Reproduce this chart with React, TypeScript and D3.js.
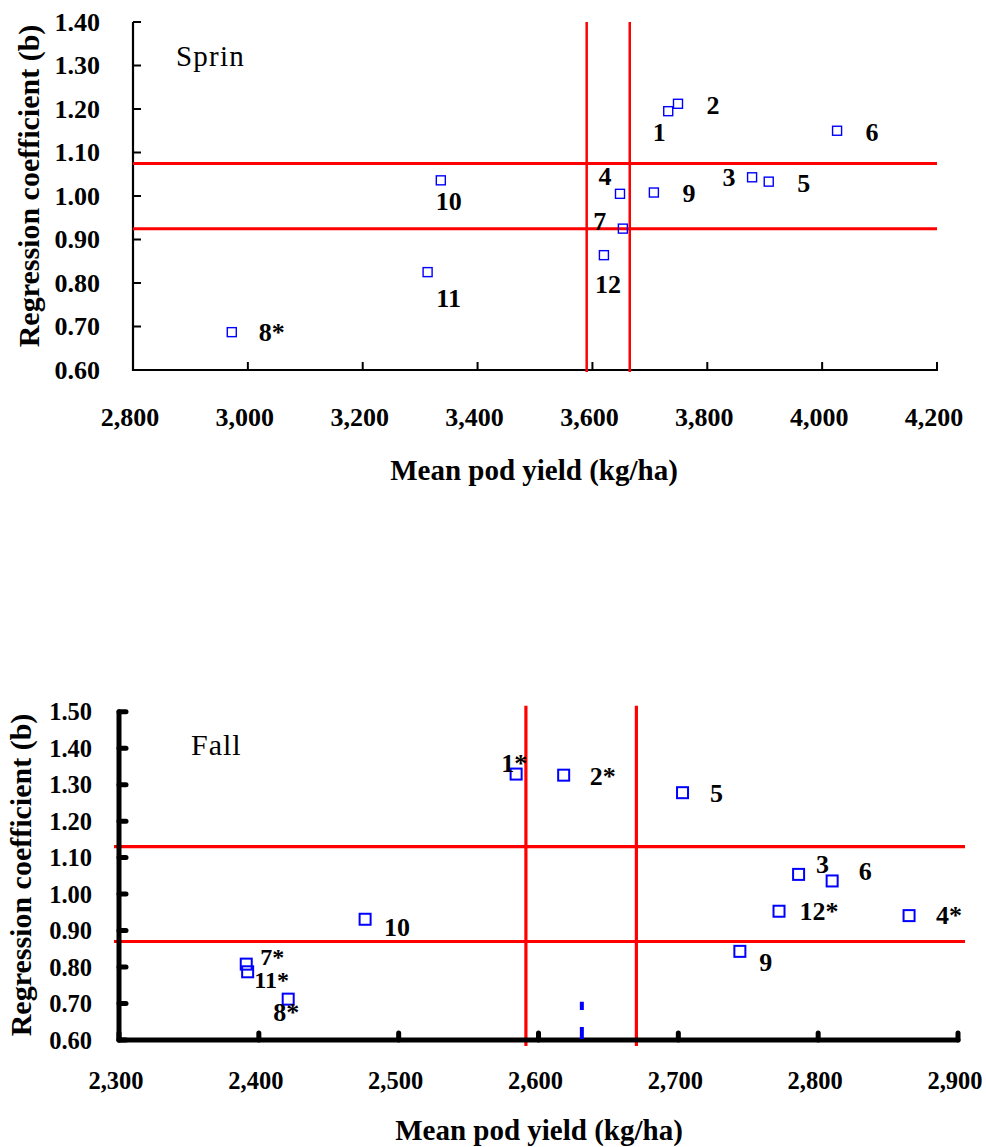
import React from "react";
import * as d3 from "d3";

// ---- Data ----
const springLabels = ["1", "2", "3", "4", "5", "6", "7", "8*", "9", "10", "11", "12"];
const springYield = [3732, 3749, 3878, 3648, 3907, 4026, 3653, 2972, 3707, 3336, 3313, 3620];
const springB = [1.195, 1.212, 1.043, 1.005, 1.033, 1.15, 0.925, 0.687, 1.008, 1.036, 0.825, 0.864];
const springYieldLines = [3590, 3665];
const springBLines = [0.925, 1.075];
const springXTicks = [2800, 3000, 3200, 3400, 3600, 3800, 4000, 4200];
const springYTicks = [0.6, 0.7, 0.8, 0.9, 1.0, 1.1, 1.2, 1.3, 1.4];

const fallLabels = ["1*", "2*", "3", "4*", "5", "6", "7*", "8*", "9", "10", "11*", "12*"];
const fallYield = [2584, 2618, 2786, 2865, 2703, 2810, 2391, 2421, 2744, 2476, 2392, 2772];
const fallB = [1.329, 1.326, 1.054, 0.941, 1.278, 1.036, 0.808, 0.712, 0.843, 0.931, 0.787, 0.953];
const fallYieldLines = [2591, 2670];
const fallBLines = [0.87, 1.13];
const fallXTicks = [2300, 2400, 2500, 2600, 2700, 2800, 2900];
const fallYTicks = [0.6, 0.7, 0.8, 0.9, 1.0, 1.1, 1.2, 1.3, 1.4, 1.5];
const fallDashYield = 2631;
const fallDashB = [0.6, 0.705];

// ---- Layout (label offsets in px, relative to marker) ----
const springLabelOffsets: [number, number][] = [
  [-9, 21], [35, 2], [-23, 0], [-15, -17], [35, 2], [35, 2],
  [-23, -7], [40, 0], [35, 1], [8, 21], [21, 26], [4, 29],
];
const fallLabelOffsets: [number, number][] = [
  [-2, -11], [39, 1], [24, -10], [40, 0], [34, 1], [33, -9],
  [26, -7], [-2, 13], [26, 11], [32, 8], [24, 8], [40, 0],
];

const SERIF = '"Liberation Serif", "Times New Roman", Times, serif';
const fmtX = d3.format(",");
const fmtY = d3.format(".2f");

export default function App() {
  // Spring panel
  const xS = d3.scaleLinear().domain([2800, 4200]).range([133, 937]);
  const yS = d3.scaleLinear().domain([0.6, 1.4]).range([370, 22]);
  // Fall panel
  const xF = d3.scaleLinear().domain([2300, 2900]).range([119, 958]);
  const yF = d3.scaleLinear().domain([0.6, 1.5]).range([1040, 711.7]);

  const textBold = { fontFamily: SERIF, fontWeight: 700, fill: "#000" } as const;

  return (
    <svg
      width={986}
      height={1147}
      style={{ position: "absolute", left: 0, top: 0, background: "#fff" }}
    >
      <rect x={0} y={0} width={986} height={1147} fill="#fff" />

      {/* ================= SPRING ================= */}
      <g>
        <line x1={xS(2800)} x2={xS(2800)} y1={yS(1.4)} y2={yS(0.6) + 1} stroke="#000" strokeWidth={2.2} />
        <line x1={xS(2800) - 1} x2={xS(4200) + 1} y1={yS(0.6)} y2={yS(0.6)} stroke="#000" strokeWidth={2.2} />
        {springYTicks.map((t) => (
          <g key={"sy" + t}>
            <line x1={xS(2800)} x2={xS(2800) + 8} y1={yS(t)} y2={yS(t)} stroke="#000" strokeWidth={2} />
            <text x={100} y={yS(t)} textAnchor="end" dominantBaseline="central" fontSize={26} {...textBold}>
              {fmtY(t)}
            </text>
          </g>
        ))}
        {springXTicks.map((t) => (
          <g key={"sx" + t}>
            <line x1={xS(t)} x2={xS(t)} y1={yS(0.6)} y2={yS(0.6) - 8} stroke="#000" strokeWidth={2} />
            <text x={xS(t) - 3} y={417} textAnchor="middle" dominantBaseline="central" fontSize={26} {...textBold}>
              {fmtX(t)}
            </text>
          </g>
        ))}
        {springBLines.map((b) => (
          <line key={"sb" + b} x1={xS(2800)} x2={xS(4200)} y1={yS(b)} y2={yS(b)} stroke="#ff0000" strokeWidth={3} />
        ))}
        {springYieldLines.map((v) => (
          <line key={"sv" + v} x1={xS(v)} x2={xS(v)} y1={yS(1.4)} y2={yS(0.6) + 2} stroke="#ff0000" strokeWidth={2.5} />
        ))}
        {springYield.map((v, i) => (
          <rect
            key={"sp" + i}
            x={xS(v) - 4.5}
            y={yS(springB[i]) - 4.5}
            width={9}
            height={9}
            fill="none"
            stroke="#0000ff"
            strokeWidth={1.4}
          />
        ))}
        {springLabels.map((l, i) => (
          <text
            key={"sl" + i}
            x={xS(springYield[i]) + springLabelOffsets[i][0]}
            y={yS(springB[i]) + springLabelOffsets[i][1]}
            textAnchor="middle"
            dominantBaseline="central"
            fontSize={26}
            {...textBold}
          >
            {l}
          </text>
        ))}
        <text x={176} y={66} fontSize={29} fontFamily={SERIF} letterSpacing={1.2} fill="#000">
          Sprin
        </text>
        <text
          transform={`translate(28,186) rotate(-90)`}
          textAnchor="middle"
          dominantBaseline="central"
          fontSize={30}
          {...textBold}
        >
          Regression coefficient (b)
        </text>
        <text x={534} y={470} textAnchor="middle" dominantBaseline="central" fontSize={29} {...textBold}>
          Mean pod yield (kg/ha)
        </text>
      </g>

      {/* ================= FALL ================= */}
      <g>
        {fallBLines.map((b) => (
          <line key={"fb" + b} x1={xF(2300) - 5} x2={xF(2900) + 7} y1={yF(b)} y2={yF(b)} stroke="#ff0000" strokeWidth={3.2} />
        ))}
        {fallYieldLines.map((v) => (
          <line key={"fv" + v} x1={xF(v)} x2={xF(v)} y1={yF(1.5) - 6} y2={yF(0.6) + 6} stroke="#ff0000" strokeWidth={3.2} />
        ))}
        <line x1={xF(2300)} x2={xF(2300)} y1={yF(1.5)} y2={yF(0.6)} stroke="#000" strokeWidth={5} strokeLinecap="round" />
        <line x1={xF(2300)} x2={xF(2900)} y1={yF(0.6)} y2={yF(0.6)} stroke="#000" strokeWidth={5} strokeLinecap="round" />
        {fallYTicks.map((t) => (
          <g key={"fy" + t}>
            <line x1={xF(2300)} x2={xF(2300) + 7} y1={yF(t)} y2={yF(t)} stroke="#000" strokeWidth={5} strokeLinecap="round" />
            <text x={92} y={yF(t)} textAnchor="end" dominantBaseline="central" fontSize={24.5} {...textBold}>
              {fmtY(t)}
            </text>
          </g>
        ))}
        {fallXTicks.map((t) => (
          <g key={"fx" + t}>
            <line x1={xF(t)} x2={xF(t)} y1={yF(0.6)} y2={yF(0.6) - 7} stroke="#000" strokeWidth={5} strokeLinecap="round" />
            <text x={xF(t) - 3} y={1080} textAnchor="middle" dominantBaseline="central" fontSize={24.5} {...textBold}>
              {fmtX(t)}
            </text>
          </g>
        ))}
        <line
          x1={xF(fallDashYield)}
          x2={xF(fallDashYield)}
          y1={yF(fallDashB[0]) - 1}
          y2={yF(fallDashB[1])}
          stroke="#0000ff"
          strokeWidth={4}
          strokeDasharray="12 17"
        />
        {fallYield.map((v, i) => (
          <rect
            key={"fp" + i}
            x={xF(v) - 5.5}
            y={yF(fallB[i]) - 5.5}
            width={11}
            height={11}
            fill="none"
            stroke="#0000ff"
            strokeWidth={2}
          />
        ))}
        {fallLabels.map((l, i) => (
          <text
            key={"fl" + i}
            x={xF(fallYield[i]) + fallLabelOffsets[i][0]}
            y={yF(fallB[i]) + fallLabelOffsets[i][1]}
            textAnchor="middle"
            dominantBaseline="central"
            fontSize={i === 6 || i === 10 ? 24 : 26}
            {...textBold}
          >
            {l}
          </text>
        ))}
        <text x={191} y={755} fontSize={30} fontFamily={SERIF} letterSpacing={1} fill="#000">
          Fall
        </text>
        <text
          transform={`translate(20,875) rotate(-90)`}
          textAnchor="middle"
          dominantBaseline="central"
          fontSize={30}
          {...textBold}
        >
          Regression coefficient (b)
        </text>
        <text x={539} y={1130} textAnchor="middle" dominantBaseline="central" fontSize={29} {...textBold}>
          Mean pod yield (kg/ha)
        </text>
      </g>
    </svg>
  );
}
